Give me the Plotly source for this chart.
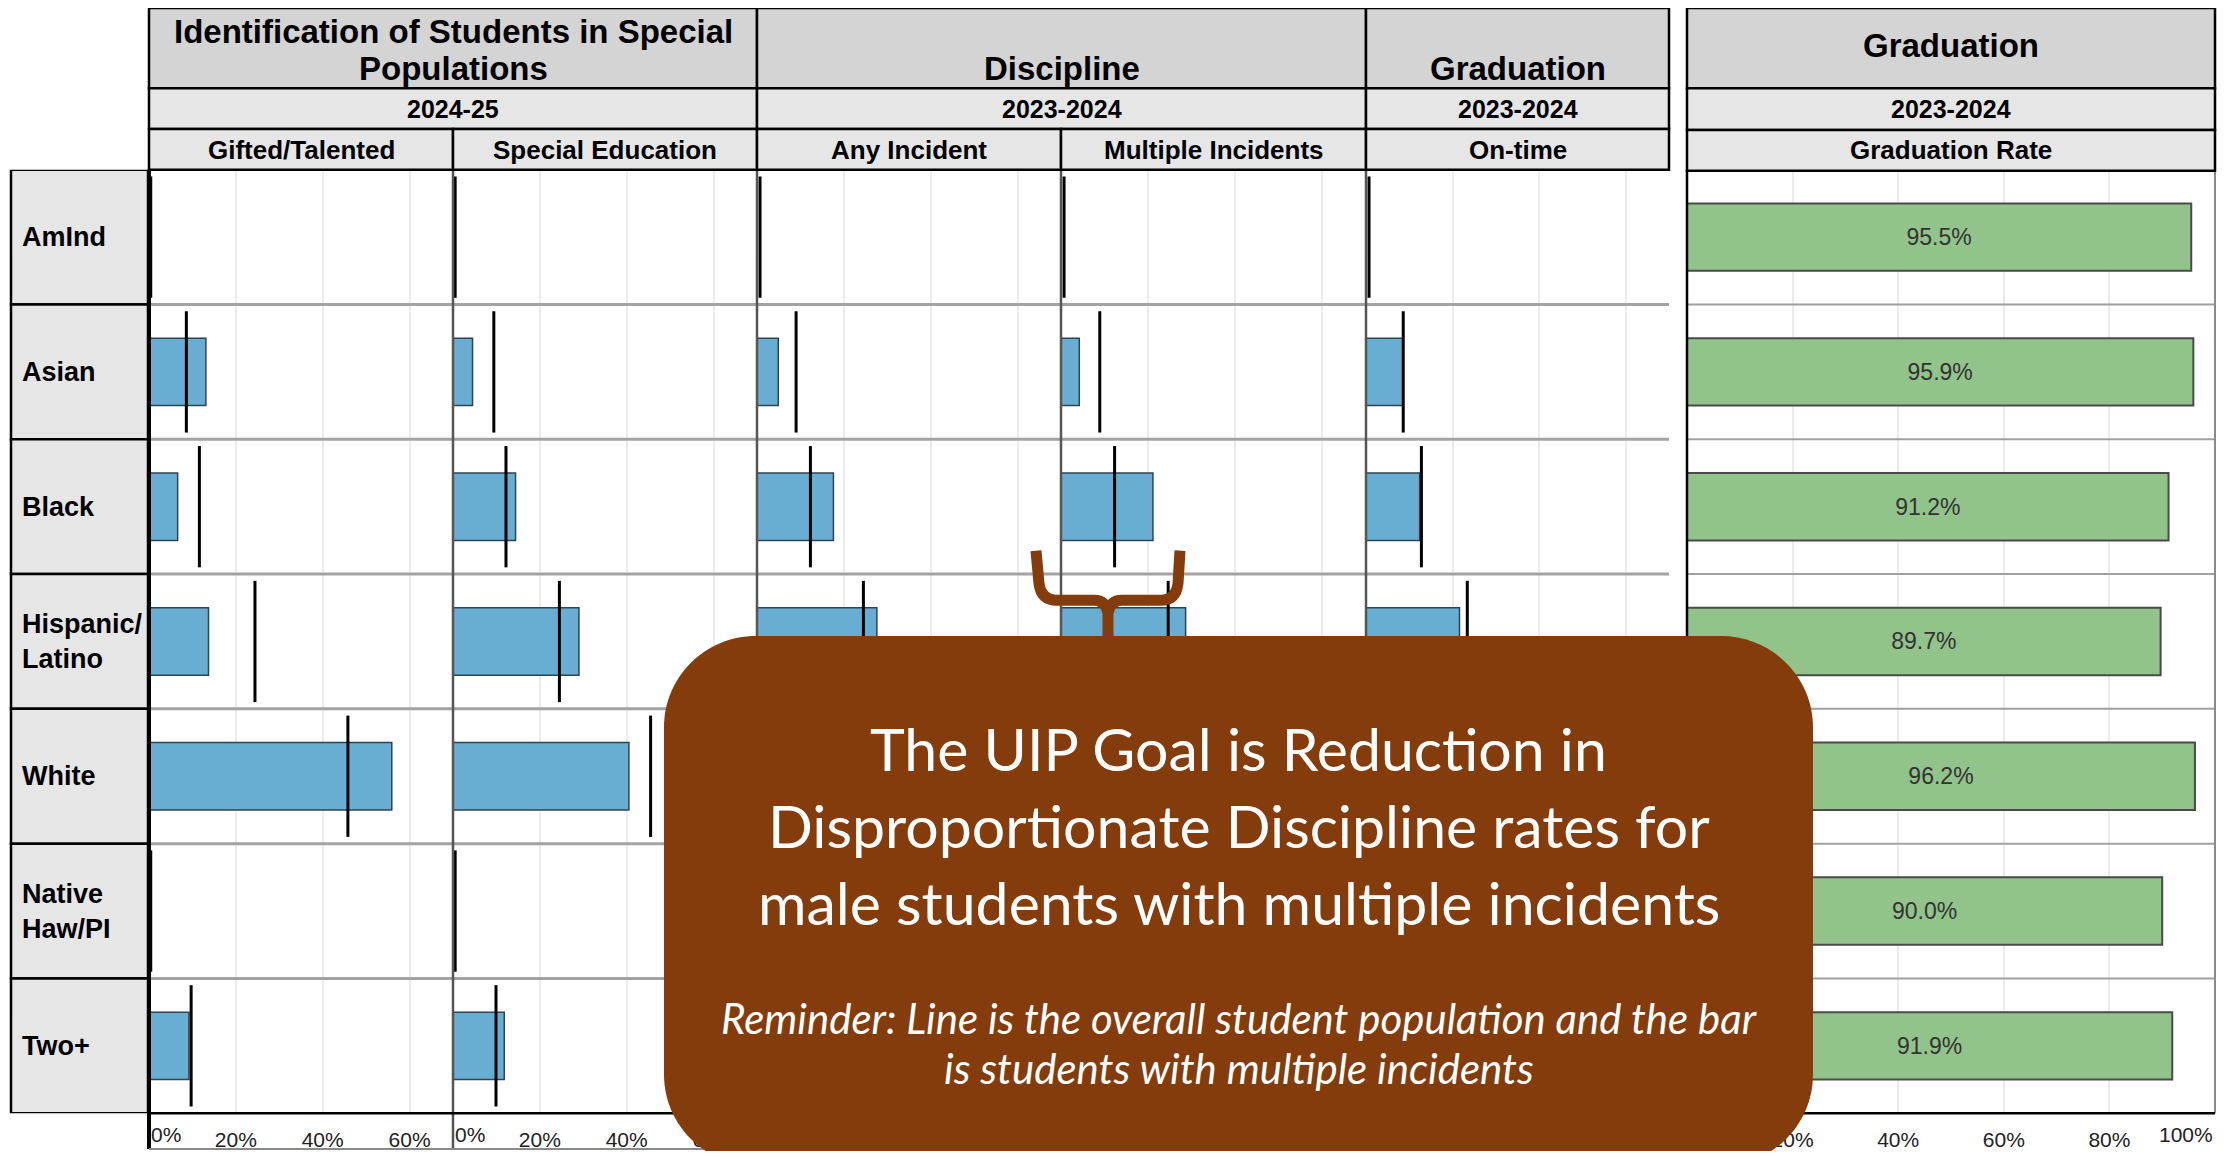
import plotly.graph_objects as go

# the page body keeps its default 8px margin, so the figure is drawn 8px smaller
OFF = 8
W, H = 2240 - OFF * 2, 1159 - OFF * 2

# ---- data ----
groups = ["AmInd", "Asian", "Black", "Hispanic/<br>Latino", "White", "Native<br>Haw/PI", "Two+"]

# bar = students with multiple incidents, line = overall student population
gifted_bar = [0.0, 0.131, 0.066, 0.137, 0.559, 0.0, 0.092]
gifted_line = [0.004, 0.086, 0.116, 0.244, 0.458, 0.004, 0.097]
sped_bar = [0.0, 0.045, 0.144, 0.290, 0.405, 0.0, 0.118]
sped_line = [0.005, 0.094, 0.122, 0.245, 0.455, 0.005, 0.099]
any_bar = [0.0, 0.049, 0.176, 0.276, 0.330, 0.0, 0.120]
any_line = [0.007, 0.090, 0.123, 0.245, 0.455, 0.005, 0.098]
multi_bar = [0.0, 0.042, 0.211, 0.286, 0.250, 0.0, 0.130]
multi_line = [0.007, 0.089, 0.123, 0.246, 0.455, 0.005, 0.098]
ontime_bar = [0.0, 0.085, 0.124, 0.216, 0.500, 0.0, 0.080]
ontime_line = [0.007, 0.086, 0.128, 0.234, 0.460, 0.005, 0.098]

grad_rate = [0.955, 0.959, 0.912, 0.897, 0.962, 0.900, 0.919]

group_titles = ["Identification of Students in Special", "Discipline", "Graduation"]
group_years = ["2024-25", "2023-2024", "2023-2024"]
sub_titles = ["Gifted/Talented", "Special Education", "Any Incident", "Multiple Incidents", "On-time"]
panel_ticks = [0.2, 0.4, 0.6]
grad_ticks = [0.2, 0.4, 0.6, 0.8]

callout_lines = ["The UIP Goal is Reduction in",
                 "Disproportionate Discipline rates for",
                 "male students with multiple incidents"]
reminder_lines = ["Reminder: Line is the overall student population and the bar",
                  "is students with multiple incidents"]

FONT = "Liberation Sans, Arial, sans-serif"
CALLOUT_FONT = "Lato, Carlito, Calibri, Open Sans, sans-serif"
BROWN = "#843c0c"


def px(x):
    return (x - OFF) / W


def py(y):
    return 1 - (y - OFF) / H


def pt(x, y):
    return f"{px(x):.5f},{py(y):.5f}"


edges = [149, 453, 757, 1061, 1366, 1669]
grad_x0, grad_x1 = 1687, 2215
top, bot = 171, 1122
rows = list(range(len(groups)))

fig = go.Figure()

panels = [(gifted_bar, gifted_line), (sped_bar, sped_line), (any_bar, any_line),
          (multi_bar, multi_line), (ontime_bar, ontime_line)]

for k, (bars, lines) in enumerate(panels):
    xa = "x" if k == 0 else f"x{k + 1}"
    fig.add_trace(go.Bar(x=bars, y=rows, orientation="h", width=0.5, xaxis=xa, yaxis="y",
                         marker=dict(color="#67aed2", line=dict(color="#2f4450", width=1.5)),
                         showlegend=False, hoverinfo="skip"))
    lx, ly = [], []
    for i, v in enumerate(lines):
        lx += [v, v, None]
        ly += [i - 0.45, i + 0.45, None]
    fig.add_trace(go.Scatter(x=lx, y=ly, mode="lines", xaxis=xa, yaxis="y",
                             line=dict(color="black", width=3),
                             showlegend=False, hoverinfo="skip"))

fig.add_trace(go.Bar(x=grad_rate, y=rows, orientation="h", width=0.5, xaxis="x6", yaxis="y",
                     marker=dict(color="#92c38a", line=dict(color="#4a4a4a", width=2)),
                     text=[f"{v * 100:.1f}%" for v in grad_rate], textposition="inside",
                     insidetextanchor="middle", textangle=0,
                     textfont=dict(family=FONT, size=23, color="#333333"),
                     showlegend=False, hoverinfo="skip"))

axis_common = dict(showgrid=True, gridcolor="#ececec", gridwidth=2, zeroline=False,
                   showline=False, ticks="outside", ticklen=8, tickcolor="rgba(0,0,0,0)",
                   tickfont=dict(family=FONT, size=21, color="#222222"), anchor="y",
                   fixedrange=True)

layout_axes = {}
for k in range(5):
    name = "xaxis" if k == 0 else f"xaxis{k + 1}"
    layout_axes[name] = dict(domain=[px(edges[k]), px(edges[k + 1])], range=[0, 0.70],
                             tickvals=panel_ticks, ticktext=[f"{int(t * 100)}%" for t in panel_ticks],
                             **axis_common)
layout_axes["xaxis6"] = dict(domain=[px(grad_x0), px(grad_x1)], range=[0, 1.0],
                             tickvals=grad_ticks, ticktext=[f"{int(t * 100)}%" for t in grad_ticks],
                             **axis_common)

shapes = []
annotations = []

# row label boxes
for i, g in enumerate(groups):
    shapes.append(dict(type="rect", xref="paper", yref="y", x0=px(11), x1=px(148),
                       y0=i - 0.5, y1=i + 0.5, fillcolor="#e6e6e6",
                       line=dict(color="black", width=2.5), layer="below"))
    annotations.append(dict(xref="paper", yref="y", x=px(20), y=i, text=g, xanchor="left",
                            yanchor="middle", align="left", showarrow=False,
                            font=dict(family=FONT, size=27, color="black", weight="bold")))

# row separators
for i in range(len(groups) - 1):
    shapes.append(dict(type="line", xref="paper", yref="y", x0=px(149), x1=px(1669),
                       y0=i + 0.5, y1=i + 0.5, line=dict(color="#a3a3a3", width=3)))
    shapes.append(dict(type="line", xref="paper", yref="y", x0=px(grad_x0), x1=px(grad_x1),
                       y0=i + 0.5, y1=i + 0.5, line=dict(color="#a0a0a0", width=2)))

# panel separators and frame
for x in edges[1:5]:
    shapes.append(dict(type="line", xref="paper", yref="paper", x0=px(x), x1=px(x),
                       y0=py(top), y1=py(1158), line=dict(color="#555555", width=2.5)))
shapes.append(dict(type="line", xref="paper", yref="paper", x0=px(149), x1=px(149),
                   y0=py(top), y1=py(1158), line=dict(color="black", width=4)))
shapes.append(dict(type="line", xref="paper", yref="paper", x0=px(149), x1=px(1669),
                   y0=py(bot), y1=py(bot), line=dict(color="black", width=2.5)))
shapes.append(dict(type="line", xref="paper", yref="paper", x0=px(149), x1=px(1669),
                   y0=py(1158), y1=py(1158), line=dict(color="#8a8a8a", width=2)))
# graduation frame
shapes.append(dict(type="line", xref="paper", yref="paper", x0=px(grad_x0), x1=px(grad_x0),
                   y0=py(top), y1=py(bot), line=dict(color="black", width=2.5)))
shapes.append(dict(type="line", xref="paper", yref="paper", x0=px(grad_x1), x1=px(grad_x1),
                   y0=py(top), y1=py(bot), line=dict(color="#8a8a8a", width=2)))
shapes.append(dict(type="line", xref="paper", yref="paper", x0=px(grad_x0), x1=px(grad_x1),
                   y0=py(bot), y1=py(bot), line=dict(color="black", width=2.5)))


def cell(x0, x1, y0, y1, fill):
    shapes.append(dict(type="rect", xref="paper", yref="paper", x0=px(x0), x1=px(x1),
                       y0=py(y1), y1=py(y0), fillcolor=fill,
                       line=dict(color="black", width=2.5)))


def label(x, y, text, size, bold=True):
    annotations.append(dict(xref="paper", yref="paper", x=px(x), y=py(y), text=text,
                            xanchor="center", yanchor="middle", showarrow=False,
                            font=dict(family=FONT, size=size, color="black",
                                      weight="bold" if bold else "normal")))


# header
group_spans = [(149, 757), (757, 1366), (1366, 1669)]
for (x0, x1), t, yr in zip(group_spans, group_titles, group_years):
    cell(x0, x1, 8, 89, "#d4d4d4")
    cell(x0, x1, 89, 130, "#e6e6e6")
    label((x0 + x1) / 2, 69 if t != group_titles[0] else 32, t, 33)
    label((x0 + x1) / 2, 110, yr, 25)
label((149 + 757) / 2, 69, "Populations", 33)
for k, s in enumerate(sub_titles):
    cell(edges[k], edges[k + 1], 130, 171, "#e6e6e6")
    label((edges[k] + edges[k + 1]) / 2, 151, s, 26)

gx = (grad_x0 + grad_x1) / 2
cell(grad_x0, grad_x1, 8, 89, "#d4d4d4")
cell(grad_x0, grad_x1, 89, 131, "#e6e6e6")
cell(grad_x0, grad_x1, 131, 172, "#e6e6e6")
label(gx, 46, "Graduation", 33)
label(gx, 110, "2023-2024", 25)
label(gx, 151, "Graduation Rate", 26)

# edge tick labels
for xa in ["x", "x2"]:
    annotations.append(dict(xref=xa, yref="paper", x=0, y=py(1143), text="0%", xanchor="left",
                            yanchor="middle", showarrow=False,
                            font=dict(family=FONT, size=21, color="#222222")))
annotations.append(dict(xref="x6", yref="paper", x=1.0, y=py(1143), text="100%", xanchor="right",
                        yanchor="middle", showarrow=False,
                        font=dict(family=FONT, size=21, color="#222222")))

# callout box
x0, x1, y0, y1, r = 664, 1813, 641, 1175, 92
k = 0.5523 * r
box = (f"M {pt(x0 + r, y0)} L {pt(x1 - r, y0)} "
       f"C {pt(x1 - r + k, y0)} {pt(x1, y0 + r - k)} {pt(x1, y0 + r)} "
       f"L {pt(x1, y1 - r)} C {pt(x1, y1 - r + k)} {pt(x1 - r + k, y1)} {pt(x1 - r, y1)} "
       f"L {pt(x0 + r, y1)} C {pt(x0 + r - k, y1)} {pt(x0, y1 - r + k)} {pt(x0, y1 - r)} "
       f"L {pt(x0, y0 + r)} C {pt(x0, y0 + r - k)} {pt(x0 + r - k, y0)} {pt(x0 + r, y0)} Z")
shapes.append(dict(type="path", xref="paper", yref="paper", path=box, fillcolor=BROWN,
                   line=dict(width=0), layer="above"))

brace = (f"M {pt(1036, 555)} L {pt(1039, 588)} Q {pt(1041, 605)} {pt(1057, 605)} "
         f"L {pt(1094, 605)} Q {pt(1106, 605)} {pt(1108, 618)} L {pt(1108, 648)} "
         f"M {pt(1108, 618)} Q {pt(1110, 605)} {pt(1122, 605)} L {pt(1161, 605)} "
         f"Q {pt(1176, 605)} {pt(1178, 588)} L {pt(1180, 555)}")
shapes.append(dict(type="path", xref="paper", yref="paper", path=brace,
                   line=dict(color=BROWN, width=11), layer="above"))

cx = (x0 + x1) / 2
for yy, t in zip([754, 832, 910], callout_lines):
    annotations.append(dict(xref="paper", yref="paper", x=px(cx), y=py(yy), text=t,
                            xanchor="center", yanchor="middle", showarrow=False,
                            font=dict(family=CALLOUT_FONT, size=59, color="white")))
for yy, t in zip([1026, 1076], reminder_lines):
    annotations.append(dict(xref="paper", yref="paper", x=px(cx), y=py(yy), text=t,
                            xanchor="center", yanchor="middle", showarrow=False,
                            font=dict(family=CALLOUT_FONT, size=42, color="white", style="italic")))

fig.update_layout(
    width=W, height=H,
    margin=dict(l=0, r=0, t=0, b=0),
    paper_bgcolor="white", plot_bgcolor="rgba(0,0,0,0)",
    yaxis=dict(domain=[py(bot), py(top)], range=[6.5, -0.5], showticklabels=False,
               showgrid=False, zeroline=False, showline=False, anchor="x", fixedrange=True),
    shapes=shapes, annotations=annotations,
    **layout_axes,
)

fig.write_html("out.html")
